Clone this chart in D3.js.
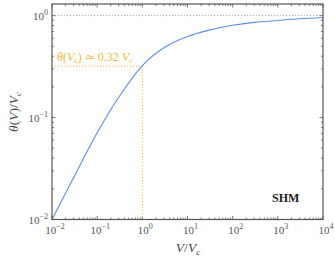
<!DOCTYPE html>
<html><head><meta charset="utf-8">
<script src="https://cdn.jsdelivr.net/npm/d3@7"></script>
<style>body{margin:0;background:#fff}svg{display:block}</style>
</head><body>
<svg id="c" width="335" height="260"></svg>
<script>
const vRatio = [0.01, 0.03, 0.1, 0.3, 1, 3, 10, 30, 100, 300, 1000, 3000, 10000];
const theta  = [0.01, 0.0257, 0.0708, 0.158, 0.324, 0.484, 0.624, 0.721, 0.805, 0.859, 0.897, 0.931, 0.959];
const xTickExp = [-2, -1, 0, 1, 2, 3, 4];
const yTickExp = [-2, -1, 0];
const thetaVc = 0.32;
const label = "SHM";

const svg = d3.select("#c");
const L = 52, R = 323, T = 4, B = 219.5;
const x = d3.scaleLog().domain([1e-2, 1e4]).range([L, R]);
const y = d3.scaleLog().domain([1e-2, 1.3]).range([B, T]);
const axisCol = "#555";
const serif = "'Liberation Serif', 'DejaVu Serif', serif";

const xMinor = [], yMinor = [];
for (let e = -2; e < 4; e++) for (let k = 2; k <= 9; k++) xMinor.push(k * Math.pow(10, e));
for (let e = -2; e < 1; e++) for (let k = 2; k <= 9; k++) { const v = k * Math.pow(10, e); if (v <= 1.3) yMinor.push(v); }

const g = svg.append("g");
function ticks(scale, vals, len, orient) {
  vals.forEach(v => {
    const p = scale(v);
    if (orient === "x") {
      g.append("line").attr("x1", p).attr("x2", p).attr("y1", B).attr("y2", B - len).attr("stroke", axisCol).attr("stroke-width", 0.8);
      g.append("line").attr("x1", p).attr("x2", p).attr("y1", T).attr("y2", T + len).attr("stroke", axisCol).attr("stroke-width", 0.8);
    } else {
      g.append("line").attr("y1", p).attr("y2", p).attr("x1", L).attr("x2", L + len).attr("stroke", axisCol).attr("stroke-width", 0.8);
      g.append("line").attr("y1", p).attr("y2", p).attr("x1", R).attr("x2", R - len).attr("stroke", axisCol).attr("stroke-width", 0.8);
    }
  });
}
ticks(x, xMinor, 2, "x");
ticks(x, xTickExp.map(e => Math.pow(10, e)), 3.5, "x");
ticks(y, yMinor, 2, "y");
ticks(y, yTickExp.map(e => Math.pow(10, e)), 3.5, "y");

svg.append("line").attr("x1", L).attr("x2", R).attr("y1", y(1)).attr("y2", y(1))
  .attr("stroke", "#aaa").attr("stroke-width", 1).attr("stroke-dasharray", "1.2,1.8");
const oc = "#f7b733";
svg.append("line").attr("x1", L).attr("x2", x(1)).attr("y1", y(thetaVc)).attr("y2", y(thetaVc))
  .attr("stroke", oc).attr("stroke-width", 1).attr("stroke-dasharray", "1.2,1.8");
svg.append("line").attr("x1", x(1)).attr("x2", x(1)).attr("y1", y(thetaVc)).attr("y2", B)
  .attr("stroke", oc).attr("stroke-width", 1).attr("stroke-dasharray", "1.2,1.8");

const line = d3.line().x((d, i) => x(vRatio[i])).y(d => y(d)).curve(d3.curveCatmullRom.alpha(0.5));
svg.append("path").attr("d", line(theta)).attr("fill", "none").attr("stroke", "#5b8def").attr("stroke-width", 1.1);

svg.append("rect").attr("x", L).attr("y", T).attr("width", R - L).attr("height", B - T)
  .attr("fill", "none").attr("stroke", axisCol).attr("stroke-width", 1.2);

function pow10(sel, e) {
  sel.append("tspan").text("10");
  sel.append("tspan").attr("dy", -5).attr("font-size", 8).text(e < 0 ? "\u2212" + (-e) : e);
}
xTickExp.forEach(e => {
  const t = svg.append("text").attr("x", x(Math.pow(10, e)) + 3).attr("y", 234).attr("text-anchor", "middle")
    .attr("font-family", serif).attr("font-size", 11).attr("fill", "#555");
  pow10(t, e);
});
yTickExp.forEach(e => {
  const t = svg.append("text").attr("x", 48).attr("y", y(Math.pow(10, e)) + 4).attr("text-anchor", "end")
    .attr("font-family", serif).attr("font-size", 11).attr("fill", "#555");
  pow10(t, e);
});

const xl = svg.append("text").attr("x", 188).attr("y", 252).attr("text-anchor", "middle")
  .attr("font-family", serif).attr("font-size", 13.5).attr("font-style", "italic").attr("fill", "#444");
xl.append("tspan").text("V");
xl.append("tspan").attr("font-style", "normal").text("/");
xl.append("tspan").text("V");
xl.append("tspan").attr("font-size", 9).attr("dy", 3).text("c");

const yl = svg.append("text").attr("transform", "translate(18,112) rotate(-90)").attr("text-anchor", "middle")
  .attr("font-family", serif).attr("font-size", 13.5).attr("font-style", "italic").attr("fill", "#444");
yl.append("tspan").text("θ");
yl.append("tspan").attr("font-style", "normal").text("(");
yl.append("tspan").text("V");
yl.append("tspan").attr("font-style", "normal").text(")/");
yl.append("tspan").text("V");
yl.append("tspan").attr("font-size", 9).attr("dy", 3).text("c");

const an = svg.append("text").attr("x", 57).attr("y", 61).attr("font-family", serif)
  .attr("font-size", 12).attr("font-style", "italic").attr("fill", oc);
an.append("tspan").text("θ");
an.append("tspan").attr("font-style", "normal").text("(");
an.append("tspan").text("V");
an.append("tspan").attr("font-size", 8).attr("dy", 2).text("c");
an.append("tspan").attr("font-style", "normal").attr("dy", -2).text(") \u2243 0.32 ");
an.append("tspan").text("V");
an.append("tspan").attr("font-size", 8).attr("dy", 2).text("c");

svg.append("text").attr("x", 272).attr("y", 202).attr("font-family", serif).attr("font-size", 12)
  .attr("font-weight", "bold").attr("fill", "#222").text(label);
</script>
</body></html>
